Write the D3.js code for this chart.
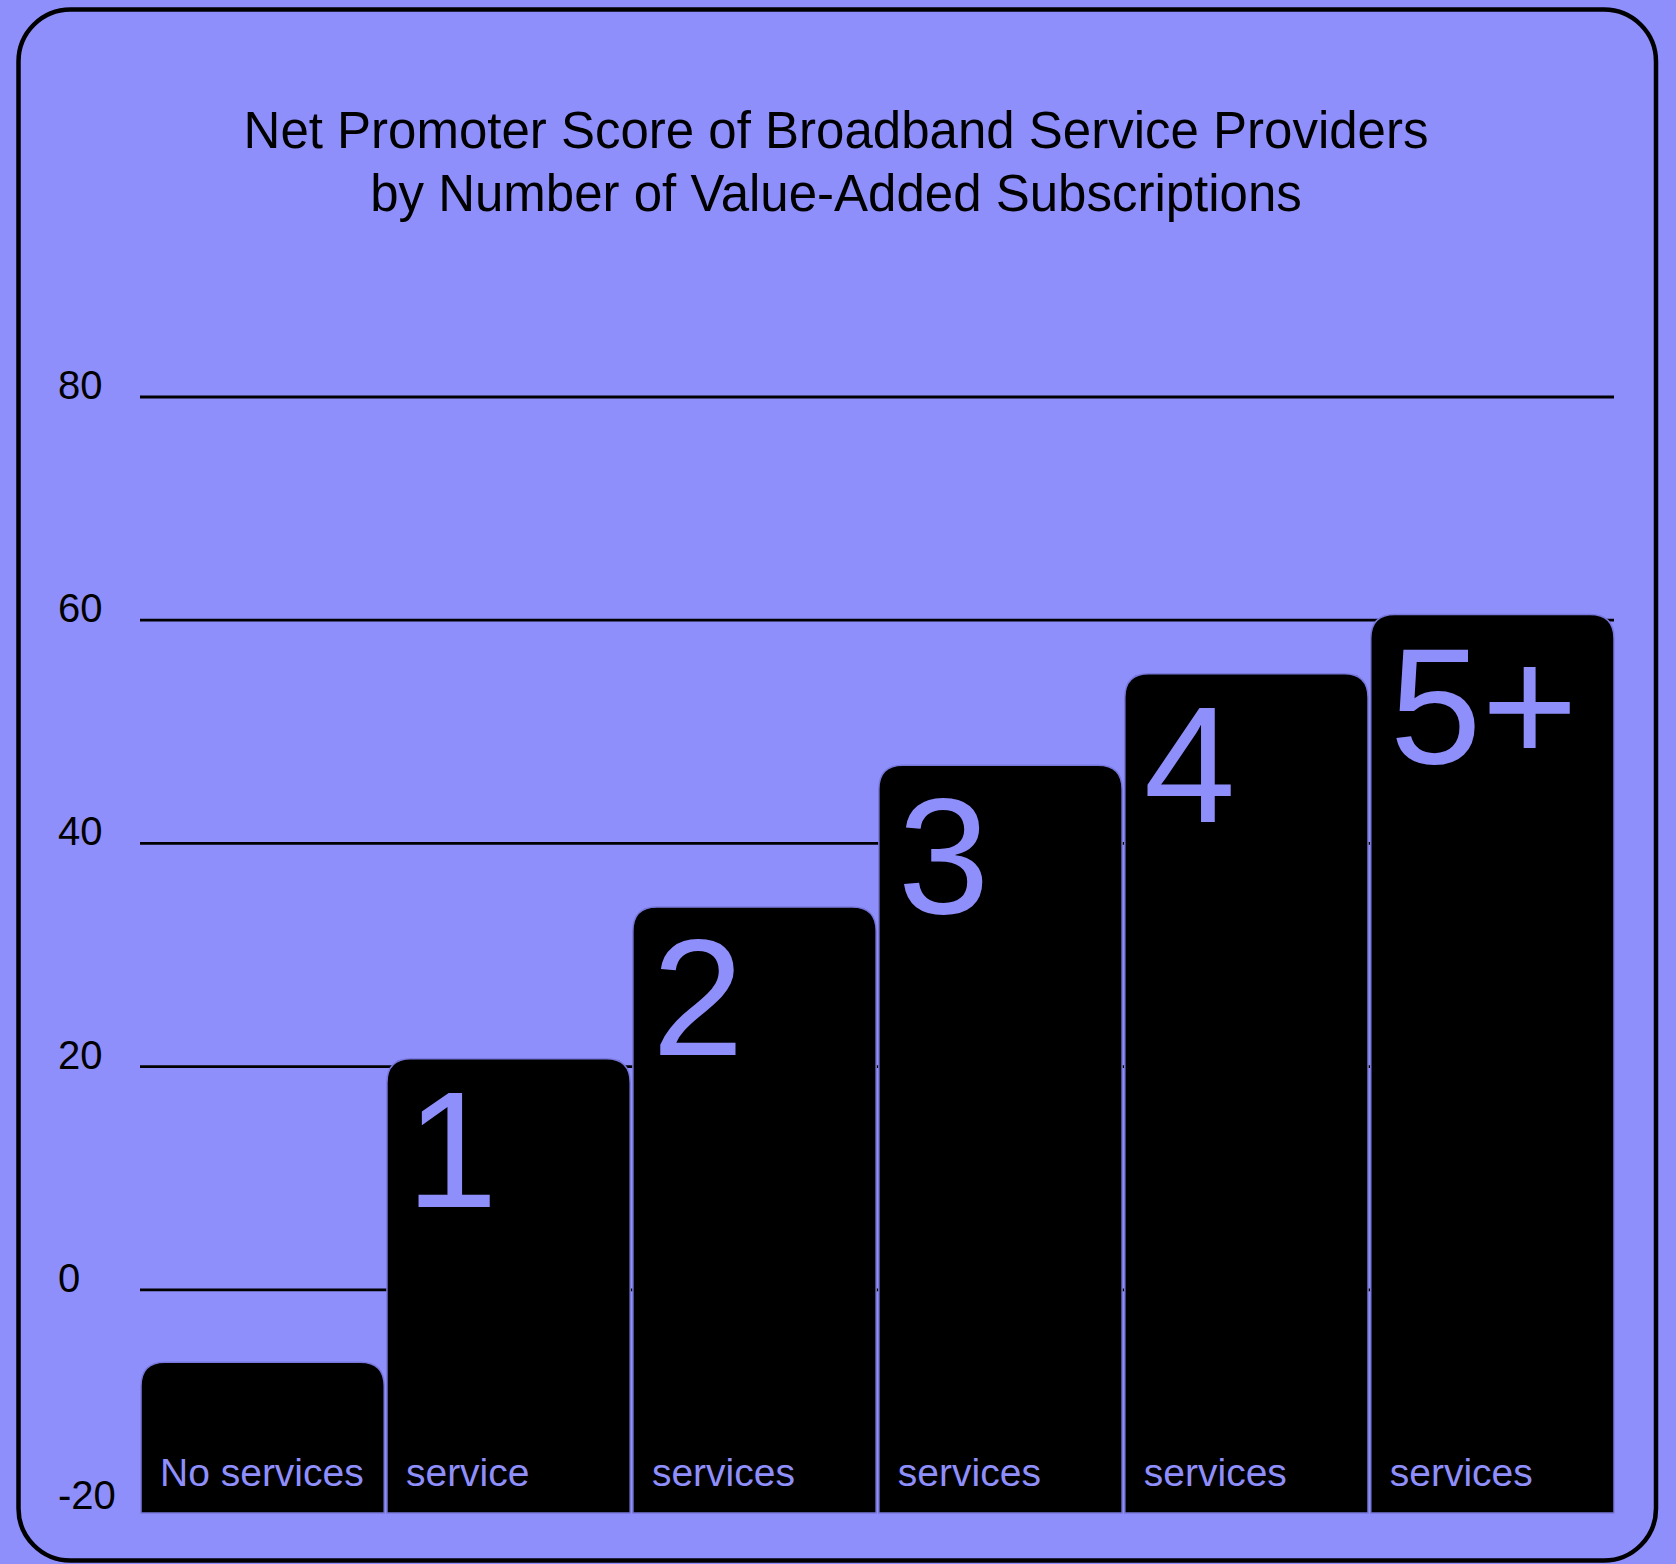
<!DOCTYPE html>
<html>
<head>
<meta charset="utf-8">
<script src="https://cdn.jsdelivr.net/npm/d3@7"></script>
<style>
  html, body { margin: 0; padding: 0; background: #8f8ffc; }
  svg { display: block; }
  text { font-family: "Liberation Sans", Arial, sans-serif; }
</style>
</head>
<body>
<div id="chart"></div>
<script>
const categories = ["No services", "1", "2", "3", "4", "5+"];
const bigLabels = ["", "1", "2", "3", "4", "5+"];
const bottomLabels = ["No services", "service", "services", "services", "services", "services"];
const npsValues = [-6.5, 20.7, 34.3, 47, 55.2, 60.5];
const yTicks = [80, 60, 40, 20, 0, -20];
const gridValues = [80, 60, 40, 20, 0];
const titleLines = [
  "Net Promoter Score of Broadband Service Providers",
  "by Number of Value-Added Subscriptions",
];

const width = 1676;
const height = 1564;
const bg = "#8f8ffc";

const svg = d3
  .select("#chart")
  .append("svg")
  .attr("width", width)
  .attr("height", height)
  .attr("viewBox", `0 0 ${width} ${height}`);

// rounded frame
svg
  .append("rect")
  .attr("x", 18.5)
  .attr("y", 9.5)
  .attr("width", 1637.5)
  .attr("height", 1551)
  .attr("rx", 52)
  .attr("ry", 52)
  .style("fill", bg)
  .style("stroke", "#000")
  .style("stroke-width", 4.5);

svg
  .append("g")
  .selectAll("text")
  .data(titleLines)
  .enter()
  .append("text")
  .attr("x", 836)
  .attr("y", (d, i) => 148 + i * 63)
  .attr("text-anchor", "middle")
  .style("font-size", "51px")
  .style("fill", "#000")
  .text((d) => d);

const x = d3
  .scaleBand()
  .domain(categories)
  .range([141, 1614])
  .paddingInner(0.011);

const y = d3.scaleLinear().domain([-20, 80]).range([1513, 397]);

// gridlines
svg
  .append("g")
  .selectAll("line")
  .data(gridValues)
  .enter()
  .append("line")
  .attr("x1", 140)
  .attr("x2", 1614)
  .attr("y1", (d) => y(d))
  .attr("y2", (d) => y(d))
  .style("stroke", "#000")
  .style("stroke-width", 2.8);

// y tick labels
svg
  .append("g")
  .selectAll("text")
  .data(yTicks)
  .enter()
  .append("text")
  .attr("x", 58)
  .attr("y", (d) => (d === -20 ? y(d) - 4 : y(d) + 2))
  .style("font-size", "40px")
  .style("fill", "#000")
  .text((d) => d);

const rows = categories.map((c, i) => ({
  cat: c,
  value: npsValues[i],
  big: bigLabels[i],
  small: bottomLabels[i],
}));

const r = 24;
const barPath = (d) => {
  const x0 = x(d.cat);
  const x1 = x0 + x.bandwidth();
  const y0 = y(d.value);
  const y1 = y(-20);
  return `M${x0},${y1}V${y0 + r}Q${x0},${y0} ${x0 + r},${y0}H${x1 - r}Q${x1},${y0} ${x1},${y0 + r}V${y1}Z`;
};

const bars = svg
  .append("g")
  .selectAll("g")
  .data(rows)
  .enter()
  .append("g");

bars
  .append("path")
  .attr("d", barPath)
  .style("fill", "#000")
  .style("stroke", "#7878dc")
  .style("stroke-width", 1.5);

bars
  .append("text")
  .attr("x", (d) => x(d.cat) + 19)
  .attr("y", (d) => y(d.value) + 148)
  .style("font-size", "165px")
  .style("fill", bg)
  .text((d) => d.big);

bars
  .append("text")
  .attr("x", (d) => x(d.cat) + 19)
  .attr("y", y(-20) - 27)
  .style("font-size", "39px")
  .style("fill", bg)
  .text((d) => d.small);
</script>
</body>
</html>
